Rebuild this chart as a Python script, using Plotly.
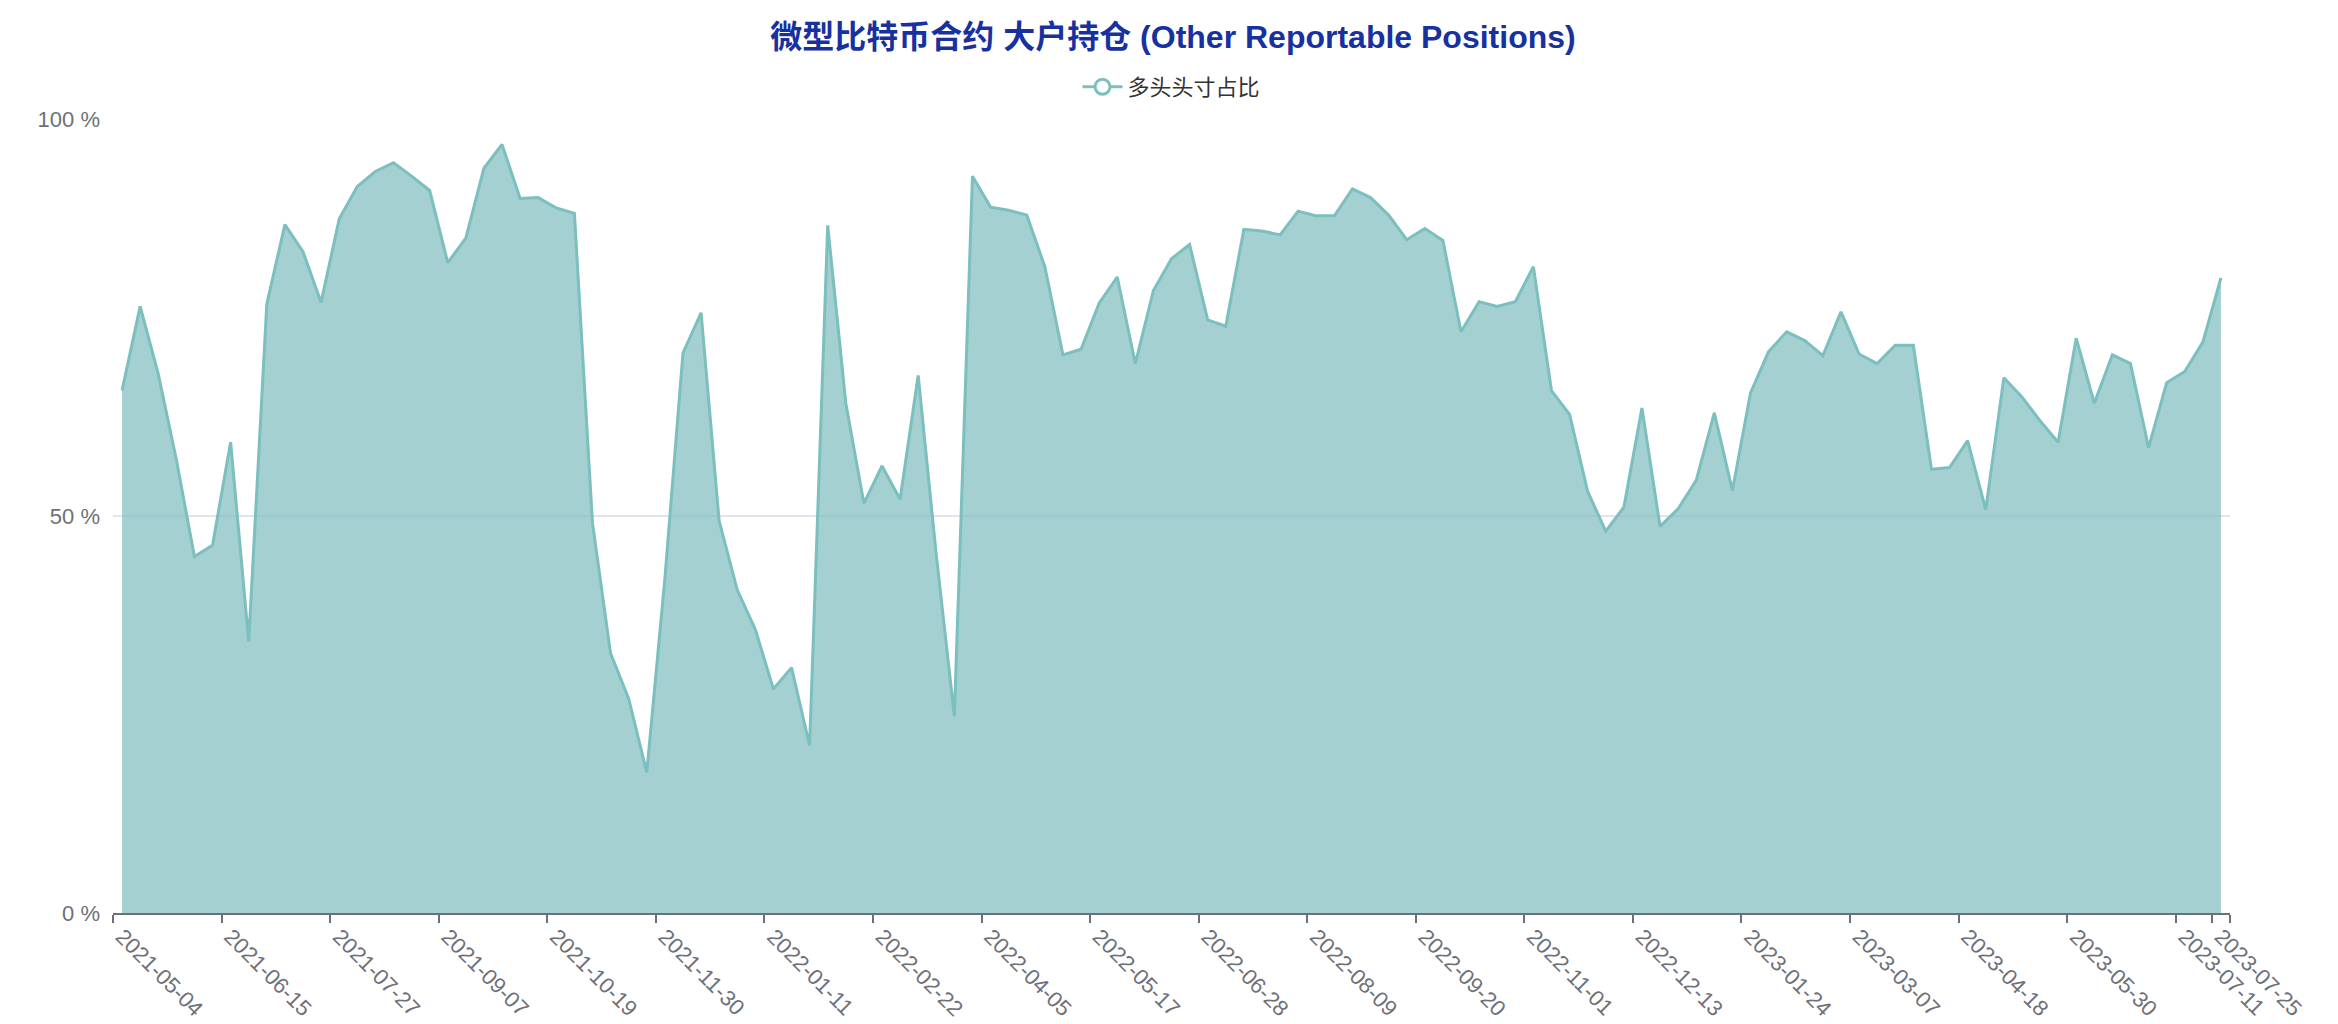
import pandas as pd
import plotly.graph_objects as go

# Weekly report dates (categories)
dates = [d.strftime("%Y-%m-%d") for d in pd.date_range("2021-05-04", periods=117, freq="7D")]

# 多头头寸占比 (%)
long_ratio = [
    65.8, 76.4, 67.9, 57.1, 44.9, 46.3, 59.3, 34.2, 76.7, 86.7,
    83.3, 76.9, 87.4, 91.5, 93.4, 94.5, 92.8, 91.0, 81.9, 85.0,
    93.8, 96.8, 90.0, 90.1, 88.8, 88.1, 49.1, 32.7, 27.0, 17.7,
    42.1, 70.5, 75.6, 49.4, 40.7, 35.7, 28.2, 30.9, 21.1, 86.6,
    64.2, 51.6, 56.3, 52.1, 67.7, 45.1, 24.8, 92.8, 88.9, 88.5,
    87.9, 81.4, 70.3, 71.0, 76.8, 80.1, 69.2, 78.4, 82.4, 84.2,
    74.7, 73.9, 86.1, 85.9, 85.4, 88.4, 87.8, 87.8, 91.2, 90.1,
    87.9, 84.8, 86.2, 84.7, 73.2, 77.0, 76.4, 77.0, 81.4, 65.8,
    62.8, 53.1, 48.1, 51.1, 63.6, 48.7, 50.9, 54.5, 63.0, 53.2,
    65.5, 70.7, 73.2, 72.1, 70.2, 75.7, 70.4, 69.2, 71.5, 71.5,
    55.9, 56.1, 59.5, 50.8, 67.4, 65.0, 62.0, 59.3, 72.4, 64.2,
    70.3, 69.2, 58.6, 66.8, 68.2, 71.9, 80.0,
]

tick_idx = list(range(0, len(dates), 6)) + [len(dates) - 1]
tick_labels = [dates[i] for i in tick_idx]
y_ticks = [0, 50, 100]
y_tick_labels = ["0 %", "50 %", "100 %"]

title_text = "微型比特币合约 大户持仓 (Other Reportable Positions)"
series_name = "多头头寸占比"

line_color = "rgb(123,191,191)"
fill_color = "rgba(126,188,189,0.7)"
font_family = "Arial, Liberation Sans, Noto Sans CJK SC, sans-serif"

# the page body adds an 8px offset; figure sized to fit the window
W, H = 2330, 1016

fig = go.Figure()
fig.add_trace(go.Scatter(
    x=dates, y=long_ratio, mode="lines",
    line=dict(color=line_color, width=3),
    fill="tozeroy", fillcolor=fill_color,
    showlegend=False, hoverinfo="x+y",
))
# legend entry (icon: line + hollow circle)
fig.add_trace(go.Scatter(
    x=[None], y=[None], mode="lines+markers", name=series_name,
    line=dict(color=line_color, width=3),
    marker=dict(symbol="circle", size=15, color="white",
                line=dict(color=line_color, width=3)),
))

fig.update_layout(
    width=W, height=H,
    margin=dict(l=105, r=108, t=111, b=111, autoexpand=False),
    paper_bgcolor="white", plot_bgcolor="white",
    font=dict(family=font_family, color="#6E7079", size=22),
    title=dict(text="<b>" + title_text + "</b>", x=0.5, xanchor="center",
               y=1 - 29 / H, yanchor="middle", yref="container",
               font=dict(size=32, color="rgb(24,49,160)", family=font_family)),
    legend=dict(orientation="h", x=0.5, xanchor="center", y=1 - 79 / H,
                yanchor="middle", yref="container",
                font=dict(size=22, color="#333333"), itemwidth=40),
    showlegend=True,
)

fig.update_xaxes(
    type="category", categoryorder="array", categoryarray=dates,
    range=[-0.5, len(dates) - 0.5], automargin=False,
    tickmode="array", tickvals=tick_labels, ticktext=tick_labels,
    tickson="boundaries", ticks="outside", ticklen=8, tickwidth=2,
    tickcolor="#6E7079", tickangle=45,
    showline=True, linecolor="#6E7079", linewidth=2,
    showgrid=False, zeroline=False,
    tickfont=dict(size=22, color="#6E7079"),
)
fig.update_yaxes(
    range=[0, 100], automargin=False,
    tickmode="array", tickvals=y_ticks, ticktext=y_tick_labels,
    showgrid=True, gridcolor="#E0E6F1", gridwidth=1.5,
    zeroline=False, showline=False, ticks="",
    ticklabelstandoff=12,
    tickfont=dict(size=22, color="#6E7079"),
)

fig.write_html("out.html")
